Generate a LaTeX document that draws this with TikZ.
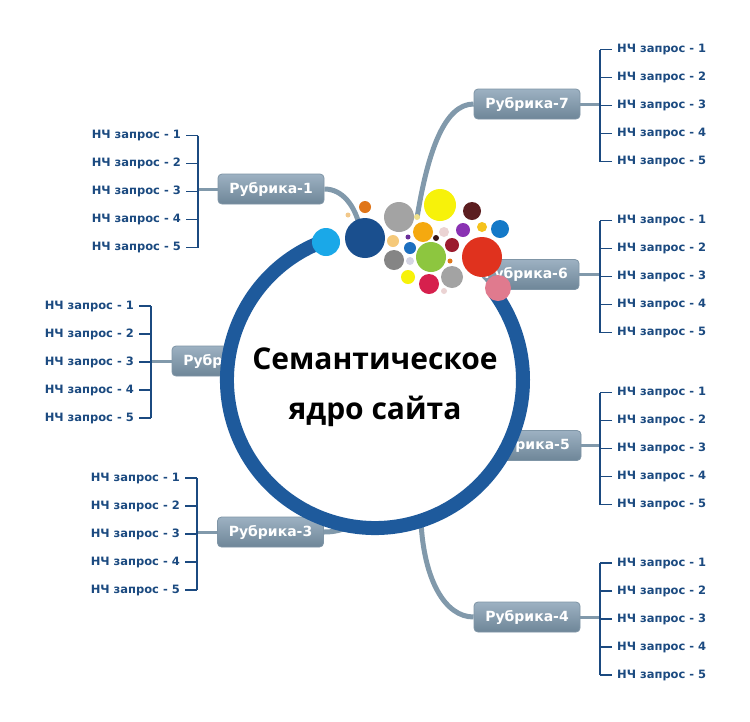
\documentclass[tikz,border=0pt]{standalone}
\usepackage{fontspec}
\setmainfont{DejaVu Sans}
\newfontfamily\titlefont{Open Sans}
\usetikzlibrary{matrix}

\definecolor{qblue}{HTML}{1B4A80}
\definecolor{stemgray}{HTML}{8199AB}
\definecolor{boxtop}{HTML}{9DB1C2}
\definecolor{boxbot}{HTML}{6E8698}
\definecolor{boxedge}{HTML}{7F95A6}
\definecolor{ringblue}{HTML}{1E5A9C}
% bubble colours
\definecolor{cCyan}{HTML}{1AA8E8}
\definecolor{cNavy}{HTML}{1A4F8E}
\definecolor{cOrange}{HTML}{E0761A}
\definecolor{cPeach}{HTML}{F2C88A}
\definecolor{cGray}{HTML}{A3A3A3}
\definecolor{cYellow}{HTML}{F7F20A}
\definecolor{cMaroon}{HTML}{5C1E20}
\definecolor{cAmber}{HTML}{F5A90F}
\definecolor{cBlush}{HTML}{EBD3D3}
\definecolor{cPurple}{HTML}{8A32B3}
\definecolor{cGold}{HTML}{F5C21C}
\definecolor{cBlue}{HTML}{1479C8}
\definecolor{cTan}{HTML}{F5C97A}
\definecolor{cViolet}{HTML}{6A2E9A}
\definecolor{cDark}{HTML}{3A1515}
\definecolor{cMidBlue}{HTML}{1C6FBF}
\definecolor{cWine}{HTML}{9B1B2E}
\definecolor{cGreen}{HTML}{8DC63F}
\definecolor{cRed}{HTML}{E0321E}
\definecolor{cSlate}{HTML}{858585}
\definecolor{cLilac}{HTML}{D5D5E3}
\definecolor{cCrimson}{HTML}{D6204D}
\definecolor{cRose}{HTML}{E07A8E}
\definecolor{cPale}{HTML}{F0E08A}

\begin{document}
\begin{tikzpicture}
    [x=1pt, y=1pt,
     qlist/.style={matrix of nodes, inner sep=0pt, row sep=16pt,
       nodes={anchor=west, inner sep=0pt, text height=9pt, text depth=3pt,
              text=qblue, font=\fontsize{11.5}{12}\selectfont\bfseries}},
     rubric/.style={rounded corners=4pt, top color=boxtop, bottom color=boxbot,
       draw=boxedge, line width=0.8pt, minimum width=106, minimum height=30,
       inner sep=0pt, text=white, font=\fontsize{14}{14}\selectfont\bfseries},
     bracket/.style={draw=qblue, line width=1.4pt},
     link/.style={draw=stemgray, line width=3pt},
     stem/.style={draw=stemgray, line width=5pt},
     ring/.style={draw=ringblue, line width=14pt},
     title/.style={align=center, inner sep=0pt,
       font=\titlefont\bfseries\fontsize{30}{50}\selectfont}]

    \useasboundingbox[fill=white] (0,0) rectangle (750,-721);

    % query lists
    \matrix (g1) [qlist, anchor=east] at (181,-191.5)
      {НЧ запрос - 1 \\ НЧ запрос - 2 \\ НЧ запрос - 3 \\ НЧ запрос - 4 \\ НЧ запрос - 5 \\};
    \matrix (g2) [qlist, anchor=east] at (134,-362)
      {НЧ запрос - 1 \\ НЧ запрос - 2 \\ НЧ запрос - 3 \\ НЧ запрос - 4 \\ НЧ запрос - 5 \\};
    \matrix (g3) [qlist, anchor=east] at (180,-534)
      {НЧ запрос - 1 \\ НЧ запрос - 2 \\ НЧ запрос - 3 \\ НЧ запрос - 4 \\ НЧ запрос - 5 \\};
    \matrix (g4) [qlist, anchor=west] at (617,-619)
      {НЧ запрос - 1 \\ НЧ запрос - 2 \\ НЧ запрос - 3 \\ НЧ запрос - 4 \\ НЧ запрос - 5 \\};
    \matrix (g5) [qlist, anchor=west] at (617,-448.5)
      {НЧ запрос - 1 \\ НЧ запрос - 2 \\ НЧ запрос - 3 \\ НЧ запрос - 4 \\ НЧ запрос - 5 \\};
    \matrix (g6) [qlist, anchor=west] at (617,-276.5)
      {НЧ запрос - 1 \\ НЧ запрос - 2 \\ НЧ запрос - 3 \\ НЧ запрос - 4 \\ НЧ запрос - 5 \\};
    \matrix (g7) [qlist, anchor=west] at (617,-105.5)
      {НЧ запрос - 1 \\ НЧ запрос - 2 \\ НЧ запрос - 3 \\ НЧ запрос - 4 \\ НЧ запрос - 5 \\};

    % rubric boxes
    \node[rubric] (r1) at (271,-189) {Рубрика-1};
    \node[rubric] (r2) at (225,-361) {Рубрика-2};
    \node[rubric] (r3) at (270.5,-532) {Рубрика-3};
    \node[rubric] (r4) at (527,-617) {Рубрика-4};
    \node[rubric] (r5) at (528,-445.5) {Рубрика-5};
    \node[rubric] (r6) at (526,-274.5) {Рубрика-6};
    \node[rubric] (r7) at (527,-104) {Рубрика-7};

    % brackets
    \foreach \g in {1,2,3}{
      \coordinate (k\g) at ([xshift=17pt]g\g-3-1.east);
      \draw[link] (r\g.west) -- (r\g.west -| k\g);
      \foreach \i in {1,...,5}
        \draw[bracket] ([xshift=5pt]g\g-\i-1.east) -- ([xshift=17pt]g\g-\i-1.east);
      \draw[bracket] ([xshift=17pt]g\g-1-1.east) -- ([xshift=17pt]g\g-5-1.east);
    }
    \foreach \g in {4,5,6,7}{
      \coordinate (k\g) at ([xshift=-17pt]g\g-3-1.west);
      \draw[link] (r\g.east) -- (r\g.east -| k\g);
      \foreach \i in {1,...,5}
        \draw[bracket] ([xshift=-5pt]g\g-\i-1.west) -- ([xshift=-17pt]g\g-\i-1.west);
      \draw[bracket] ([xshift=-17pt]g\g-1-1.west) -- ([xshift=-17pt]g\g-5-1.west);
    }

    % stems into the core
    \coordinate (e1) at (360,-228);
    \coordinate (e3) at (350,-526);
    \coordinate (e4) at (421,-522);
    \coordinate (e7) at (417,-218);
    \draw[stem] (r1.east) .. controls (342,-189) and (355,-205) .. (e1);
    \draw[stem] (r3.east) .. controls (335,-532) and (342,-530) .. (e3);
    \draw[stem] (r4.west) .. controls (445,-617) and (424,-580) .. (e4);
    \draw[stem] (r7.west) .. controls (445,-104) and (428,-150) .. (e7);

    % core
    \node[circle, fill=white, minimum size=296, inner sep=0pt] (core) at (375,-380) {};
    \draw[ring] ([shift={(110:148)}]core.center) arc[start angle=110, end angle=396, radius=148];

    % bubbles
    \foreach \x/\y/\r/\c in {326/242/14/cCyan, 365/238/20/cNavy, 365/207/6/cOrange,
        348/215/2.5/cPeach, 399/217/15/cGray, 440/205/16/cYellow, 472/211/9/cMaroon,
        423/232/10/cAmber, 444/232/5/cBlush, 463/230/7/cPurple, 482/227/5/cGold,
        500/229/9/cBlue, 393/241/6/cTan, 408/237/2.5/cViolet, 436/238/3/cDark,
        410/248/6/cMidBlue, 452/245/7/cWine, 431/257/15/cGreen, 450/261/2.5/cOrange,
        482/257/20/cRed, 394/260/10/cSlate, 410/261/4/cLilac, 408/277/7/cYellow,
        429/284/10/cCrimson, 452/277/11/cGray, 444/291/3/cBlush, 498/288/13/cRose,
        417/217/3/cPale}
      \fill[\c] (\x,-\y) circle[radius=\r];

    \node[title] (title) at (375,-387.5) {Семантическое\\ядро сайта};
  \end{tikzpicture}
\end{document}
